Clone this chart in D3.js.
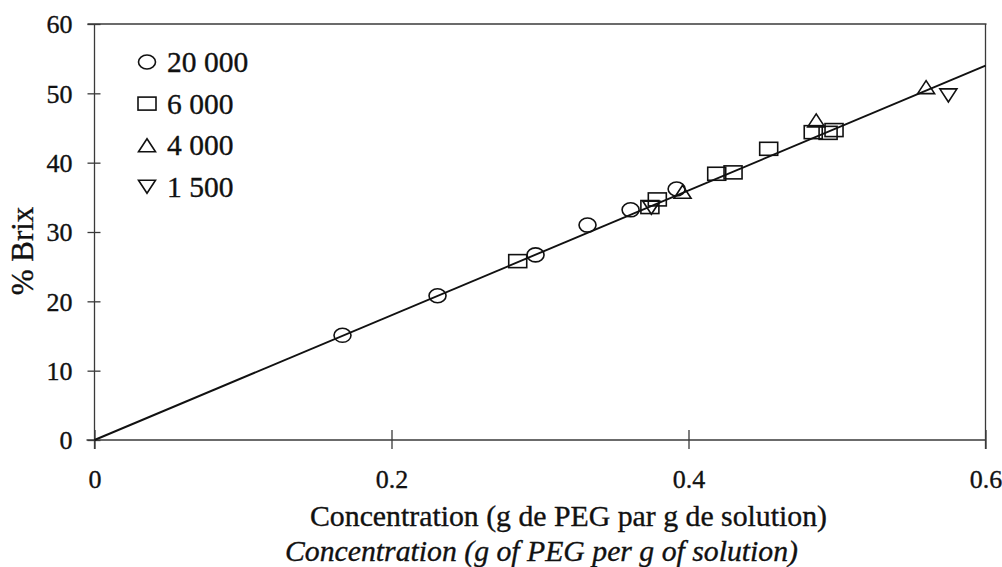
<!DOCTYPE html>
<html>
<head>
<meta charset="utf-8">
<script src="https://cdn.jsdelivr.net/npm/d3@7"></script>
<style>
  html, body { margin: 0; padding: 0; background: #fff; }
  svg { display: block; }
  svg text { font-family: "Liberation Serif", "Times New Roman", serif !important; fill: #111; stroke: #111; stroke-width: 0.35px; }
</style>
</head>
<body>
<svg id="chart" width="1002" height="567"></svg>
<script>
// Brix readings against PEG mass fraction, one series per PEG molecular weight
const series = ["20 000", "6 000", "4 000", "1 500"];
const shapes = ["circle", "square", "triangleUp", "triangleDown"];

const peg20000X = [0.167, 0.231, 0.297, 0.332, 0.361, 0.392];
const peg20000Y = [15.1, 20.8, 26.7, 31.0, 33.2, 36.2];

const peg6000X = [0.285, 0.374, 0.379, 0.419, 0.430, 0.454, 0.484, 0.494, 0.498];
const peg6000Y = [25.8, 33.6, 34.7, 38.4, 38.6, 42.0, 44.4, 44.3, 44.7];

const peg4000X = [0.396, 0.486, 0.560];
const peg4000Y = [35.8, 46.1, 50.9];

const peg1500X = [0.375, 0.575];
const peg1500Y = [33.5, 49.7];

// linear fit through the origin: %Brix = slope * concentration
const fitSlope = 90;
const fitRange = [0, 0.6];

const xTicks = [0, 0.2, 0.4, 0.6];
const xTickLabels = ["0", "0.2", "0.4", "0.6"];
const yTicks = [0, 10, 20, 30, 40, 50, 60];

const xTitle = "Concentration (g de PEG par g de solution)";
const xTitleEn = "Concentration (g of PEG per g of solution)";
const yTitle = "% Brix";

const serif = '"Liberation Serif", "Times New Roman", serif';

const svg = d3.select("#chart");
const x = d3.scaleLinear().domain([0, 0.6]).range([94.5, 985.5]);
const y = d3.scaleLinear().domain([0, 60]).range([440, 24]);

const axisColor = "#3a3a3a";
const ink = "#111";

// frame: bottom, left, top, right
const frame = svg.append("g").attr("stroke", axisColor).attr("stroke-width", 1.3).attr("fill", "none");
frame.append("line").attr("x1", x(0) - 8).attr("x2", x(0.6)).attr("y1", y(0)).attr("y2", y(0));
frame.append("line").attr("x1", x(0)).attr("x2", x(0)).attr("y1", y(60)).attr("y2", y(0) + 9);
frame.append("line").attr("x1", x(0) - 7).attr("x2", x(0.6) + 1).attr("y1", y(60)).attr("y2", y(60));
frame.append("line").attr("x1", x(0.6)).attr("x2", x(0.6)).attr("y1", y(60)).attr("y2", y(0) + 9);

// x axis with ticks crossing the baseline
const gx = svg.append("g")
  .attr("transform", `translate(0,${y(0)})`)
  .call(d3.axisBottom(x).tickValues(xTicks).tickFormat((d, i) => xTickLabels[i]).tickSize(9));
gx.attr("font-family", null).attr("font-size", null);
gx.select(".domain").remove();
gx.selectAll(".tick line").attr("y1", -10).attr("y2", 9).attr("stroke", axisColor).attr("stroke-width", 1.3);
gx.selectAll(".tick text")
  .attr("y", 48).attr("dy", 0)
  .style("font-family", serif).style("font-size", "26px").style("fill", ink);

// y axis with ticks crossing the axis line
const gy = svg.append("g")
  .attr("transform", `translate(${x(0)},0)`)
  .call(d3.axisLeft(y).tickValues(yTicks).tickFormat(d3.format("d")).tickSize(7));
gy.attr("font-family", null).attr("font-size", null);
gy.select(".domain").remove();
gy.selectAll(".tick line").attr("x1", 6).attr("x2", -7).attr("stroke", axisColor).attr("stroke-width", 1.3);
gy.selectAll(".tick text")
  .attr("x", -22).attr("dy", "0.34em")
  .style("font-family", serif).style("font-size", "26px").style("fill", ink);

// fitted line
const fitLine = d3.line().x(d => x(d)).y(d => y(fitSlope * d));
svg.append("path")
  .datum(fitRange)
  .attr("d", fitLine)
  .attr("fill", "none")
  .attr("stroke", ink)
  .attr("stroke-width", 1.9);

// marker drawing
function drawMarker(g, shape, cx, cy) {
  let el;
  if (shape === "circle") {
    el = g.append("ellipse").attr("cx", cx).attr("cy", cy).attr("rx", 8.5).attr("ry", 7);
  } else if (shape === "square") {
    el = g.append("rect").attr("x", cx - 9).attr("y", cy - 6.5).attr("width", 18).attr("height", 13);
  } else if (shape === "triangleUp") {
    el = g.append("path").attr("d", `M${cx},${cy - 6.5}L${cx + 8.5},${cy + 6.5}L${cx - 8.5},${cy + 6.5}Z`);
  } else {
    el = g.append("path").attr("d", `M${cx - 8.5},${cy - 6.5}L${cx + 8.5},${cy - 6.5}L${cx},${cy + 6.5}Z`);
  }
  el.attr("stroke", ink).attr("stroke-width", 1.6).attr("fill", "none");
  return el;
}

const seriesData = [
  [peg20000X, peg20000Y],
  [peg6000X, peg6000Y],
  [peg4000X, peg4000Y],
  [peg1500X, peg1500Y]
];

const points = svg.append("g");
seriesData.forEach(([xs, ys], si) => {
  const g = points.append("g").attr("class", "series-" + si);
  xs.forEach((v, i) => drawMarker(g, shapes[si], x(v), y(ys[i])));
});

// legend
const legend = svg.append("g");
series.forEach((name, i) => {
  const ly = 62 + i * 41.6;
  drawMarker(legend, shapes[i], 147, ly);
  legend.append("text")
    .attr("x", 167).attr("y", ly + 10)
    .style("font-family", serif).style("font-size", "29.5px")
    .text(name);
});

// axis titles
svg.append("text")
  .attr("x", 310).attr("y", 526)
  .style("font-family", serif).style("font-size", "30px")
  .attr("textLength", 517).attr("lengthAdjust", "spacingAndGlyphs")
  .text(xTitle);
svg.append("text")
  .attr("x", 285).attr("y", 561)
  .style("font-family", serif).style("font-size", "30px").style("font-style", "italic")
  .attr("textLength", 513).attr("lengthAdjust", "spacingAndGlyphs")
  .text(xTitleEn);
svg.append("text")
  .attr("transform", "translate(33,251) rotate(-90)")
  .attr("text-anchor", "middle")
  .style("font-family", serif).style("font-size", "31px")
  .text(yTitle);
</script>
</body>
</html>
